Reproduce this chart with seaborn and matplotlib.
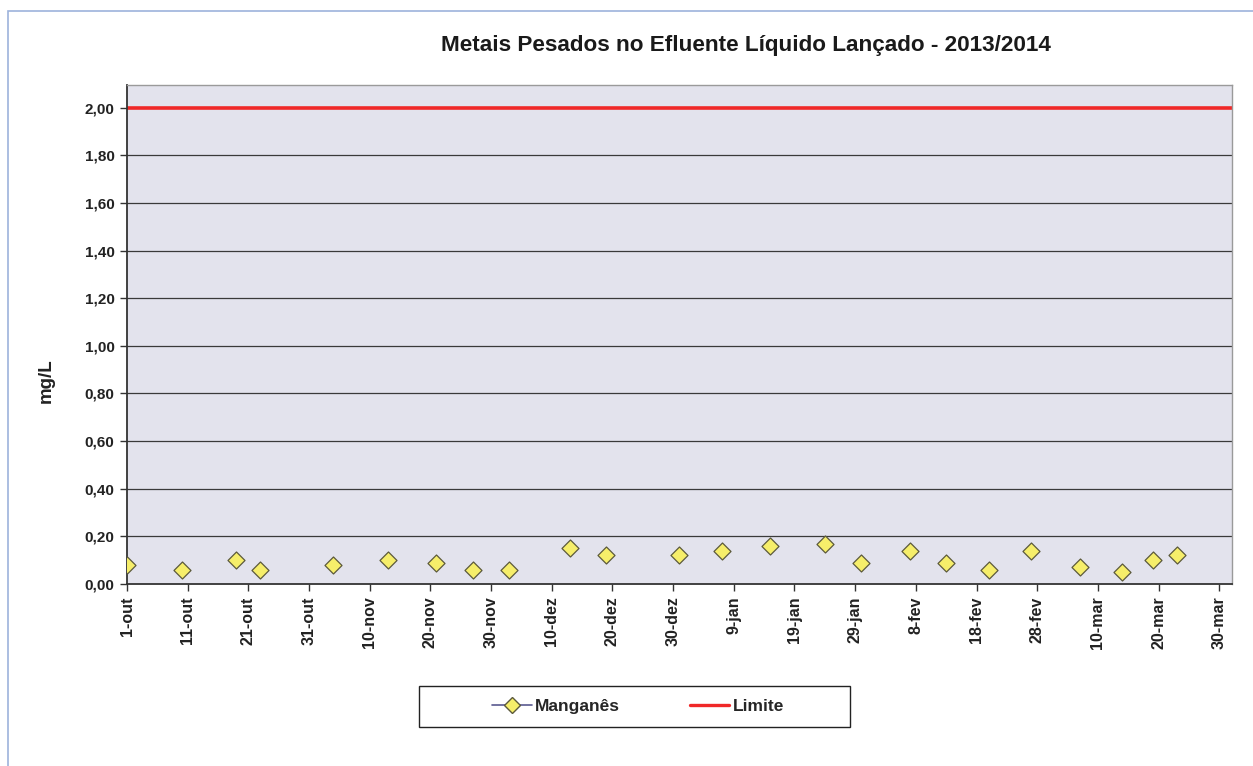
import matplotlib
matplotlib.use("Agg")
import matplotlib.pyplot as plt
import matplotlib.dates as mdates
from matplotlib.lines import Line2D
from matplotlib.patches import Rectangle
import pandas as pd
import seaborn as sns

# Sampling dates and manganese concentrations (mg/L)
sample_dates = [
    "2013-10-01", "2013-10-10", "2013-10-19", "2013-10-23", "2013-11-04",
    "2013-11-13", "2013-11-21", "2013-11-27", "2013-12-03", "2013-12-13",
    "2013-12-19", "2013-12-31", "2014-01-07", "2014-01-15", "2014-01-24",
    "2014-01-30", "2014-02-07", "2014-02-13", "2014-02-20", "2014-02-27",
    "2014-03-07", "2014-03-14", "2014-03-19", "2014-03-23",
]
manganes = [
    0.08, 0.06, 0.10, 0.06, 0.08, 0.10, 0.09, 0.06, 0.06, 0.15,
    0.12, 0.12, 0.14, 0.16, 0.17, 0.09, 0.14, 0.09, 0.06, 0.14,
    0.07, 0.05, 0.10, 0.12,
]
limite = 2.00

# Date axis: ticks every 10 days
tick_dates = pd.date_range("2013-10-01", periods=19, freq="10D")
tick_labels = [
    "1-out", "11-out", "21-out", "31-out", "10-nov", "20-nov", "30-nov",
    "10-dez", "20-dez", "30-dez", "9-jan", "19-jan", "29-jan", "8-fev",
    "18-fev", "28-fev", "10-mar", "20-mar", "30-mar",
]
y_ticks = [0.0, 0.2, 0.4, 0.6, 0.8, 1.0, 1.2, 1.4, 1.6, 1.8, 2.0]

df = pd.DataFrame({"data": pd.to_datetime(sample_dates), "mg": manganes})

sns.set_theme(style="white")
plt.rcParams["font.family"] = ["Liberation Sans", "DejaVu Sans"]

W, H = 1253, 766
fig = plt.figure(figsize=(W / 100, H / 100), dpi=100)
ax = fig.add_axes([127 / W, 1 - 584 / H, (1232 - 127) / W, (584 - 85) / H])
ax.set_facecolor("#E3E3ED")

# outer chart frame
fig.patches.append(Rectangle((8 / W, -0.05), 1.2, 1 - 11 / H + 0.05,
                             transform=fig.transFigure, fill=False,
                             edgecolor="#9DB3DC", linewidth=1.2))

for v in y_ticks[1:-1]:
    ax.axhline(v, color="#3a3a3a", linewidth=0.9, zorder=1)

ax.axhline(limite, color="#F02828", linewidth=2.6, zorder=2)

sns.scatterplot(data=df, x="data", y="mg", marker="D", s=75,
                color="#F6EE6A", edgecolor="#5C5A3C", linewidth=0.9,
                zorder=3, ax=ax, legend=False)

x0 = mdates.date2num(pd.Timestamp("2013-10-01"))
ax.set_xlim(x0, x0 + 182.1)
ax.set_ylim(0, 2.095)

ax.set_xticks(mdates.date2num(tick_dates))
ax.set_xticklabels(tick_labels, rotation=90, fontsize=11.5, fontweight="bold",
                   color="#222222")
ax.set_yticks(y_ticks)
ax.set_yticklabels([f"{v:.2f}".replace(".", ",") for v in y_ticks],
                   fontsize=11, fontweight="bold", color="#222222")
ax.tick_params(axis="both", direction="out", length=5, width=1,
               color="#333333", bottom=True, left=True, pad=4)
ax.set_xlabel("")
ax.set_ylabel("")

for side in ["left", "bottom"]:
    ax.spines[side].set_color("#333333")
    ax.spines[side].set_linewidth(1.3)
for side in ["top", "right"]:
    ax.spines[side].set_color("#9a9a9a")
    ax.spines[side].set_linewidth(1.0)

fig.text(46 / W, 1 - 381 / H, "mg/L", rotation=90, ha="center", va="center",
         fontsize=13.5, fontweight="bold", color="#222222")

fig.text(746 / W, 1 - 45 / H,
         "Metais Pesados no Efluente Líquido Lançado - 2013/2014",
         ha="center", va="center", fontsize=16.2, fontweight="bold",
         color="#1a1a1a")

# legend box and entries
fig.patches.append(Rectangle((419 / W, 1 - 727 / H), 431 / W, 41 / H,
                             transform=fig.transFigure, fill=False,
                             edgecolor="#222222", linewidth=1.0))
handles = [
    Line2D([], [], color="#5A5A90", linewidth=1.2, marker="D", markersize=8,
           markerfacecolor="#F6EE6A", markeredgecolor="#5C5A3C"),
    Line2D([], [], color="#F02828", linewidth=2.4),
]
fig.legend(handles, ["Manganês", "Limite"], loc="center",
           bbox_to_anchor=(638 / W, 1 - 706 / H), ncol=2,
           frameon=False, handlelength=2.3, columnspacing=4.0,
           handletextpad=0.2, prop={"weight": "bold", "size": 12.5})

fig.savefig("out.png", dpi=100)
